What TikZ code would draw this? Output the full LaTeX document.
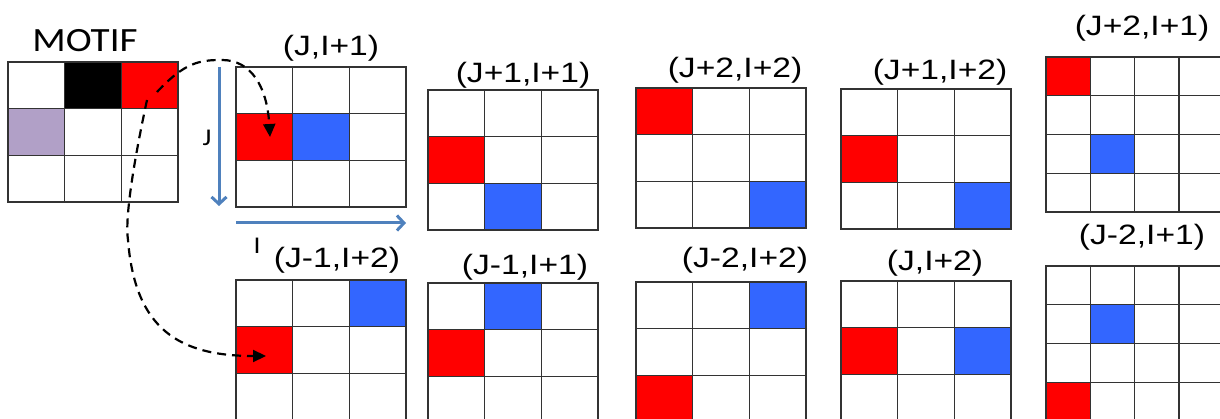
\documentclass[tikz,border=0pt]{standalone}
\usepackage{fontspec}
\setmainfont{Liberation Sans}[FakeStretch=1.2]
\newfontfamily\motiffont{Carlito}[FakeStretch=1.15]
\usetikzlibrary{arrows.meta}

\definecolor{cellred}{RGB}{255,0,0}
\definecolor{cellblue}{RGB}{51,102,255}
\definecolor{celllilac}{RGB}{177,160,199}
\definecolor{axisblue}{RGB}{79,129,189}
\definecolor{gridgray}{RGB}{51,51,51}

\tikzset{
  gridline/.style={draw=gridgray, line width=1.3pt},
  poslabel/.style={font=\fontsize{28}{32}\selectfont},
  axislabel/.style={font=\motiffont\fontsize{24}{28}\selectfont},
  axis/.style={axisblue, line width=3pt, -{Straight Barb[length=7pt,width=15pt]}},
  jump/.style={dash pattern=on 9pt off 6pt, line width=2.2pt, -{Triangle[length=13pt,width=12pt]}}
}

\begin{document}
\begin{tikzpicture}[x=1pt,y=-1pt]
  \useasboundingbox (0,0) rectangle (1220,419);
  \clip (0,0) rectangle (1220,419);
  \def\cw{56.7} % cell width
  \def\ch{46.7} % cell height
  \def\sw{44.3} % small cell width
  \def\sh{38.75} % small cell height

  % Motif
  \node[font=\motiffont\fontsize{34}{40}\selectfont] (motif) at (85,41) {MOTIF};
  \fill[black] ({8+\cw},62) rectangle ++(\cw,\ch);
  \fill[cellred] ({8+2*\cw},62) rectangle ++(\cw,\ch);
  \fill[celllilac] (8,{62+\ch}) rectangle ++(\cw,\ch);
  \foreach \c in {0,1,2}
    \foreach \r in {0,1,2}
      {\draw[gridline] ({8+\c*\cw},{62+\r*\ch}) rectangle ++(\cw,\ch);}

  % 3x3 windows: left/top/red col/red row/blue col/blue row
  \foreach \gx/\gy/\rc/\rr/\bc/\br in {236/67/0/1/1/1, 236/280/0/1/2/0,
      428/90/0/1/1/2, 428/283/0/1/1/0, 636/88/0/0/2/2, 636/282/0/2/2/0,
      841/89/0/1/2/2, 841/281/0/1/2/1}
  {\fill[cellred] ({\gx+\rc*\cw},{\gy+\rr*\ch}) rectangle ++(\cw,\ch);
   \fill[cellblue] ({\gx+\bc*\cw},{\gy+\br*\ch}) rectangle ++(\cw,\ch);
   \foreach \c in {0,1,2}
     \foreach \r in {0,1,2}
       {\draw[gridline] ({\gx+\c*\cw},{\gy+\r*\ch}) rectangle ++(\cw,\ch);}}

  % 4x4 windows (cut at the right)
  \foreach \gy/\rc/\rr/\bc/\br in {57/0/0/1/2, 266/0/3/1/1}
  {\fill[cellred] ({1046+\rc*\sw},{\gy+\rr*\sh}) rectangle ++(\sw,\sh);
   \fill[cellblue] ({1046+\bc*\sw},{\gy+\br*\sh}) rectangle ++(\sw,\sh);
   \foreach \c in {0,...,3}
     \foreach \r in {0,...,3}
       {\draw[gridline] ({1046+\c*\sw},{\gy+\r*\sh}) rectangle ++(\sw,\sh);}}

  % window labels
  \node[poslabel] (lab-a) at (331,48) {(J,I+1)};
  \node[poslabel] (lab-b) at (337,260) {(J-1,I+2)};
  \node[poslabel] (lab-c) at (523,75) {(J+1,I+1)};
  \node[poslabel] (lab-d) at (525,267) {(J-1,I+1)};
  \node[poslabel] (lab-e) at (735,70) {(J+2,I+2)};
  \node[poslabel] (lab-f) at (745,260) {(J-2,I+2)};
  \node[poslabel] (lab-g) at (940,72) {(J+1,I+2)};
  \node[poslabel] (lab-h) at (935,263) {(J,I+2)};
  \node[poslabel] (lab-k) at (1142,28) {(J+2,I+1)};
  \node[poslabel] (lab-l) at (1142,237) {(J-2,I+1)};

  % axes
  \coordinate (jtop) at (219,67);
  \coordinate (jbot) at (219,206);
  \coordinate (ileft) at (236,223);
  \coordinate (iright) at (406,223);
  \draw[axis] (jtop) -- (jbot);
  \draw[axis] (ileft) -- (iright);
  \node[axislabel] (jlab) at (207,138) {J};
  \node[axislabel] (ilab) at (257,246) {I};

  % jumps from the motif
  \coordinate (src) at (157,92);
  \coordinate (dst-a) at (270,137);
  \coordinate (src2) at (147,100);
  \coordinate (dst-b) at (266,356);
  \draw[jump] (src) .. controls (185,62) and (200,60) .. (222,60)
	.. controls (250,60) and (267,85) .. (dst-a);
  \draw[jump] (src2) .. controls (132,170) and (125,220) .. (128,240)
	.. controls (135,330) and (180,356) .. (dst-b);
\end{tikzpicture}
\end{document}
